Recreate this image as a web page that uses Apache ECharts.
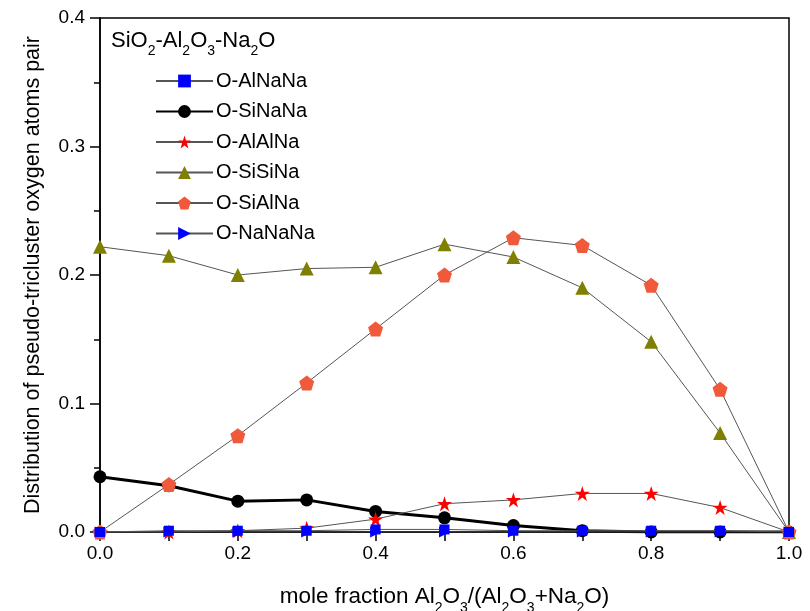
<!DOCTYPE html>
<html><head><meta charset="utf-8">
<script src="https://cdn.jsdelivr.net/npm/echarts@6/dist/echarts.min.js"></script>
<style>html,body{margin:0;padding:0;background:#fff}#c{width:810px;height:611px}</style>
</head><body><div id="c"></div>
<script>
const xValues = [0.0, 0.1, 0.2, 0.3, 0.4, 0.5, 0.6, 0.7, 0.8, 0.9, 1.0];
const seriesNames = ['O-AlNaNa', 'O-SiNaNa', 'O-AlAlNa', 'O-SiSiNa', 'O-SiAlNa', 'O-NaNaNa'];
const alNaNa = [0.000, 0.001, 0.001, 0.001, 0.002, 0.002, 0.001, 0.001, 0.001, 0.001, 0.000];
const siNaNa = [0.043, 0.036, 0.024, 0.025, 0.016, 0.011, 0.005, 0.001, 0.000, 0.000, 0.000];
const alAlNa = [0.000, 0.000, 0.001, 0.003, 0.010, 0.022, 0.025, 0.030, 0.030, 0.019, 0.000];
const siSiNa = [0.222, 0.215, 0.200, 0.205, 0.206, 0.224, 0.214, 0.190, 0.148, 0.077, 0.000];
const siAlNa = [0.000, 0.037, 0.075, 0.116, 0.158, 0.200, 0.229, 0.223, 0.192, 0.111, 0.000];
const naNaNa = [0.000, 0.000, 0.000, 0.000, 0.000, 0.000, 0.000, 0.000, 0.000, 0.000, 0.000];
const yTicks = [0.0, 0.1, 0.2, 0.3, 0.4];

const pairs = arr => xValues.map((x, i) => [x, arr[i]]);
const FONT = '"Liberation Sans", Arial, sans-serif';
const pentagon = 'path://M0,-1 L0.951,-0.309 L0.588,0.809 L-0.588,0.809 L-0.951,-0.309 Z';
const star = 'path://M0,-1 L0.2245,-0.309 L0.951,-0.309 L0.363,0.118 L0.588,0.809 L0,0.382 L-0.588,0.809 L-0.363,0.118 L-0.951,-0.309 L-0.2245,-0.309 Z';
const rtri = 'path://M0,0 L1,0.5 L0,1 Z';

const gray = '#555';
function mk(name, data, symbol, size, color, lw, lc, z) {
  return {
    name, type: 'line', data: pairs(data), symbol, symbolSize: size,
    itemStyle: { color: color, borderWidth: 0 },
    lineStyle: { color: lc, width: lw },
    z: z, animation: false
  };
}
const richSub = (fs, sfs, raise) => ({
  n: { fontFamily: FONT, fontSize: fs, color: '#000', verticalAlign: 'bottom', padding: [0, 0, raise, 0] },
  s: { fontFamily: FONT, fontSize: sfs, color: '#000', verticalAlign: 'bottom', padding: [0, 0, 0, 0] }
});

const chart = echarts.init(document.getElementById('c'), null, { renderer: 'canvas' });
chart.setOption({
  backgroundColor: '#fff',
  animation: false,
  grid: {
    left: 100, right: 21, top: 18, bottom: 79, containLabel: false, outerBoundsMode: 'none',
    show: true, borderColor: '#000', borderWidth: 1.5
  },
  title: {
    text: '{n|SiO}{s|2}{n|-Al}{s|2}{n|O}{s|3}{n|-Na}{s|2}{n|O}',
    left: 106, top: 25,
    textStyle: { fontSize: 22, fontWeight: 'normal', color: '#000', rich: richSub(22, 14, 6) }
  },
  legend: {
    orient: 'vertical', left: 150, top: 66, itemWidth: 57, itemHeight: 16, itemGap: 10.5,
    data: seriesNames,
    textStyle: { fontFamily: FONT, fontSize: 20, color: '#000', padding: [0, 0, 0, -2] }
  },
  xAxis: {
    type: 'value', min: 0, max: 1, interval: 0.1,
    name: '{n|mole fraction Al}{s|2}{n|O}{s|3}{n|/(Al}{s|2}{n|O}{s|3}{n|+Na}{s|2}{n|O)}',
    nameLocation: 'middle', nameGap: 53,
    nameTextStyle: { fontSize: 22.5, color: '#000', rich: richSub(22.5, 14, 7) },
    axisLine: { lineStyle: { color: '#000', width: 1.5 } },
    axisTick: { inside: false, length: 9, lineStyle: { color: '#000', width: 1.5 } },
    axisLabel: {
      fontFamily: FONT, fontSize: 19, color: '#000', margin: 12,
      formatter: v => (Math.round(v * 10) % 2 === 0 ? v.toFixed(1) : '')
    },
    splitLine: { show: false }
  },
  yAxis: {
    type: 'value', min: yTicks[0], max: yTicks[yTicks.length - 1], interval: 0.1,
    name: 'Distribution of pseudo-tricluster oxygen atoms pair',
    nameLocation: 'middle', nameGap: 56, nameRotate: 90,
    nameTextStyle: { fontFamily: FONT, fontSize: 21.5, color: '#000' },
    axisLine: { lineStyle: { color: '#000', width: 1.5 } },
    axisTick: { inside: false, length: 10, lineStyle: { color: '#000', width: 1.5 } },
    minorTick: { show: true, splitNumber: 2, length: 6, lineStyle: { color: '#000', width: 1.5 } },
    axisLabel: { fontFamily: FONT, fontSize: 19, color: '#000', margin: 15, formatter: v => v.toFixed(1) },
    splitLine: { show: false }
  },
  series: [
    mk(seriesNames[0], alNaNa, 'rect', 10, '#0000ff', 1, gray, 8),
    mk(seriesNames[1], siNaNa, 'circle', 13, '#000', 3, '#000', 3),
    mk(seriesNames[2], alAlNa, star, 15, '#ff0000', 1, gray, 4),
    mk(seriesNames[3], siSiNa, 'triangle', 14, '#808000', 1, gray, 5),
    mk(seriesNames[4], siAlNa, pentagon, 15, '#f05a3a', 1, gray, 6),
    mk(seriesNames[5], naNaNa, rtri, 11, '#0000ff', 1, gray, 7)
  ]
});
</script></body></html>
